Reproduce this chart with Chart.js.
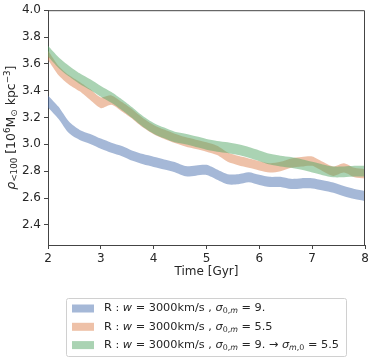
<!DOCTYPE html>
<html>
<head>
<meta charset="utf-8">
<script src="https://cdn.jsdelivr.net/npm/chart.js@4"></script>
<style>
    body { margin: 0; background: #fff; }
    canvas { display: block; }
</style>
</head>
<body>
<canvas id="densityChart" width="374" height="363"></canvas>
<script>
// Time [Gyr]
const times = [2.0, 2.2, 2.4, 2.6, 2.8, 3.0, 3.2, 3.4, 3.6, 3.8, 4.0, 4.2, 4.4, 4.6, 4.8, 5.0,
               5.2, 5.4, 5.6, 5.8, 6.0, 6.2, 6.4, 6.6, 6.8, 7.0, 7.2, 7.4, 7.6, 7.8, 8.0];

// sigma_0,m = 9.
const blueLow  = [3.275, 3.19, 3.082, 3.032, 3.002, 2.967, 2.937, 2.912, 2.877, 2.852, 2.832, 2.812, 2.792, 2.762, 2.767, 2.772,
                  2.737, 2.702, 2.702, 2.717, 2.697, 2.682, 2.682, 2.667, 2.672, 2.672, 2.657, 2.64, 2.614, 2.592, 2.577];
const blueHigh = [3.365, 3.28, 3.168, 3.108, 3.078, 3.043, 3.013, 2.988, 2.953, 2.928, 2.908, 2.888, 2.868, 2.838, 2.843, 2.848,
                  2.813, 2.778, 2.778, 2.793, 2.773, 2.758, 2.758, 2.743, 2.748, 2.748, 2.733, 2.716, 2.69, 2.668, 2.653];

// sigma_0,m = 5.5
const orangeLow  = [3.63, 3.515, 3.445, 3.395, 3.33, 3.27, 3.295, 3.245, 3.19, 3.125, 3.075, 3.04, 3.01, 2.985, 2.965, 2.945,
                    2.92, 2.87, 2.845, 2.825, 2.805, 2.79, 2.80, 2.825, 2.835, 2.84, 2.80, 2.765, 2.79, 2.755, 2.745];
const orangeHigh = [3.70, 3.585, 3.515, 3.465, 3.41, 3.35, 3.365, 3.315, 3.26, 3.195, 3.145, 3.11, 3.08, 3.055, 3.035, 3.015,
                    2.99, 2.94, 2.915, 2.895, 2.875, 2.86, 2.87, 2.895, 2.905, 2.91, 2.87, 2.835, 2.86, 2.825, 2.815];

// sigma_0,m = 9. -> sigma_m,0 = 5.5
const greenLow  = [3.655, 3.57, 3.505, 3.45, 3.405, 3.355, 3.31, 3.255, 3.195, 3.13, 3.08, 3.045, 3.015, 3.0, 2.98, 2.96,
                   2.945, 2.935, 2.92, 2.9, 2.875, 2.85, 2.835, 2.825, 2.81, 2.79, 2.77, 2.755, 2.755, 2.76, 2.76];
const greenHigh = [3.735, 3.65, 3.585, 3.53, 3.485, 3.435, 3.39, 3.335, 3.275, 3.21, 3.16, 3.125, 3.095, 3.08, 3.06, 3.04,
                   3.025, 3.015, 3.0, 2.98, 2.955, 2.93, 2.915, 2.905, 2.89, 2.87, 2.85, 2.835, 2.835, 2.84, 2.84];

const xTicks = [2, 3, 4, 5, 6, 7, 8];
const yTicks = [2.4, 2.6, 2.8, 3.0, 3.2, 3.4, 3.6, 3.8, 4.0];

const colors = {
    blue: 'rgba(76, 114, 176, 0.5)',
    orange: 'rgba(221, 132, 82, 0.5)',
    green: 'rgba(85, 168, 104, 0.5)'
};

// rich text pieces: i = italic, sub / sup = small offset text
const xTitle = [{t: 'Time [Gyr]'}];
const yTitle = [
    {t: 'ρ', i: true}, {t: '<100', sub: true}, {t: ' [10'}, {t: '6', sup: true},
    {t: 'M'}, {t: '⊙', sub: true}, {t: ' kpc'}, {t: '−3', sup: true}, {t: ']'}
];
const legendLabels = [
    [{t: 'R : '}, {t: 'w', i: true}, {t: ' = 3000km/s , '}, {t: 'σ', i: true}, {t: '0,', sub: true}, {t: 'm', sub: true, i: true},
     {t: ' = 9.'}],
    [{t: 'R : '}, {t: 'w', i: true}, {t: ' = 3000km/s , '}, {t: 'σ', i: true}, {t: '0,', sub: true}, {t: 'm', sub: true, i: true},
     {t: ' = 5.5'}],
    [{t: 'R : '}, {t: 'w', i: true}, {t: ' = 3000km/s , '}, {t: 'σ', i: true}, {t: '0,', sub: true}, {t: 'm', sub: true, i: true},
     {t: ' = 9. → '}, {t: 'σ', i: true}, {t: 'm', sub: true, i: true}, {t: ',0', sub: true}, {t: ' = 5.5'}]
];
const legendColors = [colors.blue, colors.orange, colors.green];

const FONT = '"DejaVu Sans", sans-serif';
const TEXT = '#262626';
const SPINE = '#444';

function toPoints(arr) {
    return times.map((t, i) => ({x: t, y: arr[i]}));
}

function band(low, high, color) {
    const common = {borderColor: 'rgba(0,0,0,0)', pointRadius: 0, tension: 0.25};
    return [
        Object.assign({data: toPoints(low), fill: false}, common),
        Object.assign({data: toPoints(high), fill: '-1', backgroundColor: color}, common)
    ];
}

function pieceFont(p, size) {
    const s = (p.sub || p.sup) ? size * 0.7 : size;
    return (p.i ? 'italic ' : '') + s + 'px ' + FONT;
}

function richWidth(ctx, pieces, size) {
    let w = 0;
    pieces.forEach(p => {
        ctx.font = pieceFont(p, size);
        w += ctx.measureText(p.t).width;
    });
    return w;
}

function drawRich(ctx, pieces, x, y, size, align) {
    let cx = align === 'center' ? x - richWidth(ctx, pieces, size) / 2 : x;
    ctx.textBaseline = 'middle';
    ctx.textAlign = 'left';
    pieces.forEach(p => {
        ctx.font = pieceFont(p, size);
        let dy = 0;
        if (p.sub) dy = size * 0.25;
        if (p.sup) dy = -size * 0.35;
        ctx.fillText(p.t, cx, y + dy);
        cx += ctx.measureText(p.t).width;
    });
}

const decorations = {
    id: 'decorations',
    afterDraw: (chart) => {
        const {ctx, chartArea: {left, right, top, bottom}} = chart;
        ctx.save();
        // top and right spines
        ctx.strokeStyle = SPINE;
        ctx.lineWidth = 1;
        ctx.beginPath();
        ctx.moveTo(left, top + 0.5);
        ctx.lineTo(right - 0.5, top + 0.5);
        ctx.lineTo(right - 0.5, bottom);
        ctx.stroke();

        ctx.fillStyle = TEXT;
        drawRich(ctx, xTitle, (left + right) / 2, 272, 12, 'center');

        ctx.save();
        ctx.translate(12, (top + bottom) / 2);
        ctx.rotate(-Math.PI / 2);
        drawRich(ctx, yTitle, 0, 0, 12.5, 'center');
        ctx.restore();

        // legend box
        const bx = 66.5, by = 298.5, bw = 280, bh = 58;
        ctx.strokeStyle = '#d0d0d0';
        ctx.lineWidth = 1;
        ctx.beginPath();
        ctx.roundRect(bx, by, bw, bh, 2);
        ctx.fillStyle = 'rgba(255,255,255,0.8)';
        ctx.fill();
        ctx.stroke();
        legendLabels.forEach((label, i) => {
            const cy = 308.5 + i * 18.3;
            ctx.fillStyle = legendColors[i];
            ctx.fillRect(72, cy - 4, 22, 8);
            ctx.fillStyle = TEXT;
            drawRich(ctx, label, 104, cy, 11.3, 'left');
        });
        ctx.restore();
    }
};

const ctx = document.getElementById('densityChart').getContext('2d');

new Chart(ctx, {
    type: 'line',
    data: {
        datasets: [
            ...band(greenLow, greenHigh, colors.green),
            ...band(orangeLow, orangeHigh, colors.orange),
            ...band(blueLow, blueHigh, colors.blue)
        ]
    },
    options: {
        responsive: false,
        animation: false,
        layout: {padding: {left: 0, right: 9, top: 10, bottom: 88}},
        plugins: {
            legend: {display: false},
            tooltip: {enabled: false}
        },
        scales: {
            x: {
                type: 'linear',
                min: 2,
                max: 8,
                afterBuildTicks: (scale) => { scale.ticks = xTicks.map(v => ({value: v})); },
                afterFit: (scale) => { scale.height = 30; },
                border: {display: true, color: SPINE, width: 1},
                grid: {drawOnChartArea: false, drawTicks: true, tickLength: 4, color: SPINE},
                ticks: {color: TEXT, padding: 3, maxRotation: 0, font: {family: FONT, size: 12}}
            },
            y: {
                min: 2.25,
                max: 4.0,
                afterBuildTicks: (scale) => { scale.ticks = yTicks.map(v => ({value: v})); },
                afterFit: (scale) => { scale.width = 48; },
                border: {display: true, color: SPINE, width: 1},
                grid: {drawOnChartArea: false, drawTicks: true, tickLength: 4, color: SPINE},
                ticks: {
                    color: TEXT,
                    padding: 3,
                    font: {family: FONT, size: 12},
                    callback: (v) => v.toFixed(1)
                }
            }
        }
    },
    plugins: [decorations]
});
</script>
</body>
</html>
